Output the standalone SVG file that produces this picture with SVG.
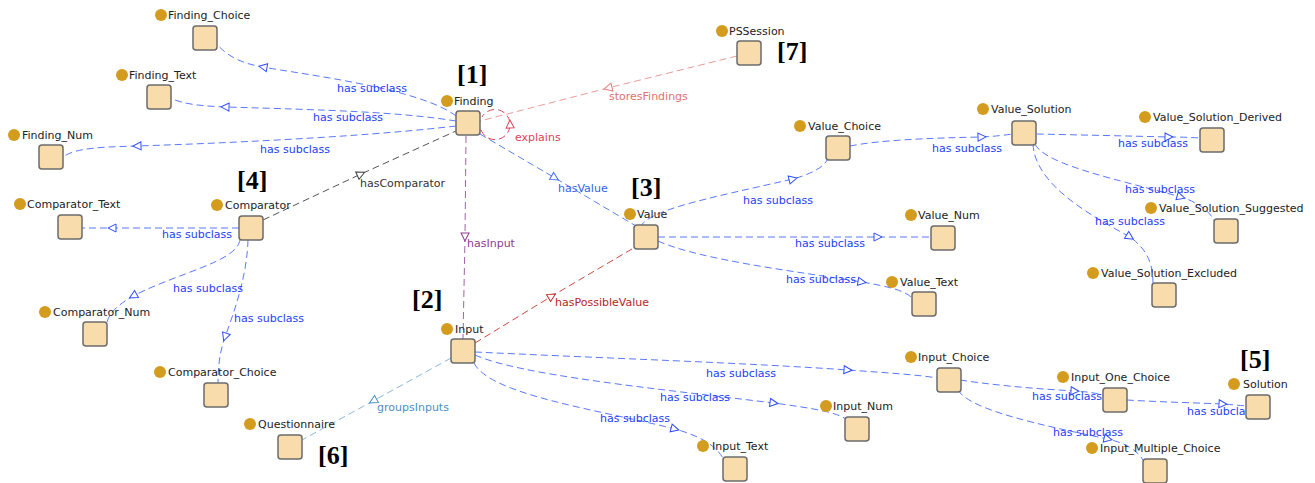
<svg xmlns="http://www.w3.org/2000/svg" width="1315" height="483" viewBox="0 0 1315 483">
<style>
  .box{fill:#F8DCAB;stroke:#6b6b6b;stroke-width:1.5}
  .dot{fill:#D39C1F}
  .nl{font-family:"DejaVu Sans",sans-serif;font-size:11px;fill:#222}
  .el{font-family:"DejaVu Sans",sans-serif;font-size:11px}
  .sub{fill:#2340ff}
  .e{fill:none;stroke-width:1;stroke-dasharray:7,4}
  .eb{stroke:#5a78ff;marker-mid:url(#mb)}
  .num{font-family:"Liberation Serif",serif;font-weight:bold;font-size:26px;fill:#000}
</style>
<defs>
  <marker id="mb" viewBox="0 0 10 10" refX="5" refY="5" markerWidth="10" markerHeight="10" markerUnits="userSpaceOnUse" orient="auto"><path d="M1,1 L9,5 L1,9 Z" fill="#fff" stroke="#2f4cff" stroke-width="1"/></marker>
  <marker id="mg" viewBox="0 0 10 10" refX="5" refY="5" markerWidth="10" markerHeight="10" markerUnits="userSpaceOnUse" orient="auto"><path d="M1,1 L9,5 L1,9 Z" fill="#fff" stroke="#444" stroke-width="1"/></marker>
  <marker id="mp" viewBox="0 0 10 10" refX="5" refY="5" markerWidth="10" markerHeight="10" markerUnits="userSpaceOnUse" orient="auto"><path d="M1,1 L9,5 L1,9 Z" fill="#fff" stroke="#8e3a94" stroke-width="1"/></marker>
  <marker id="mv" viewBox="0 0 10 10" refX="5" refY="5" markerWidth="10" markerHeight="10" markerUnits="userSpaceOnUse" orient="auto"><path d="M1,1 L9,5 L1,9 Z" fill="#fff" stroke="#3f6cf0" stroke-width="1"/></marker>
  <marker id="mr" viewBox="0 0 10 10" refX="5" refY="5" markerWidth="10" markerHeight="10" markerUnits="userSpaceOnUse" orient="auto"><path d="M1,1 L9,5 L1,9 Z" fill="#fff" stroke="#c0302a" stroke-width="1"/></marker>
  <marker id="ml" viewBox="0 0 10 10" refX="5" refY="5" markerWidth="10" markerHeight="10" markerUnits="userSpaceOnUse" orient="auto"><path d="M1,1 L9,5 L1,9 Z" fill="#fff" stroke="#4a8fc4" stroke-width="1"/></marker>
  <marker id="mk" viewBox="0 0 10 10" refX="5" refY="5" markerWidth="10" markerHeight="10" markerUnits="userSpaceOnUse" orient="auto"><path d="M1,1 L9,5 L1,9 Z" fill="#fff" stroke="#e27c7c" stroke-width="1"/></marker>
  <marker id="mx" viewBox="0 0 10 10" refX="5" refY="5" markerWidth="10" markerHeight="10" markerUnits="userSpaceOnUse" orient="auto"><path d="M1,1 L9,5 L1,9 Z" fill="#fff" stroke="#e0405a" stroke-width="1"/></marker>
</defs>
<rect width="1315" height="483" fill="#fff"/>

<g id="connectors">
  <path class="e eb" d="M456,116 C420,88 300,74 263,67 C245,64 228,58 216,43"/>
  <path class="e eb" d="M456,121 C400,112 330,110 225,107 C205,106 185,105 170,98"/>
  <path class="e eb" d="M456,126 C380,135 260,142 137,146 C100,147 75,148 63,157"/>
  <path class="e eb" d="M239,228 L112,228 L81,228"/>
  <path class="e eb" d="M240,240 C236,262 180,272 133,296 C118,305 110,312 107,322"/>
  <path class="e eb" d="M248,240 C247,275 235,310 225,337 C220,352 218,365 218,383"/>
  <path class="e eb" d="M640,227 C650,210 700,200 793,179 C815,173 825,165 827,160"/>
  <path class="e eb" d="M658,237 L878,237 L931,237"/>
  <path class="e eb" d="M658,241 C700,260 800,272 862,282 C885,286 905,290 912,298"/>
  <path class="e eb" d="M850,146 C880,140 930,138 982,137 Q1000,136 1012,134"/>
  <path class="e eb" d="M1037,134 C1080,135 1130,136 1169,137 Q1185,137 1200,138"/>
  <path class="e eb" d="M1035,144 C1045,165 1120,180 1181,197 C1200,203 1210,212 1215,222"/>
  <path class="e eb" d="M1033,144 C1035,185 1090,215 1130,237 C1148,250 1153,265 1153,283"/>
  <path class="e eb" d="M475,352 C600,358 750,363 848,370 C890,373 920,375 937,378"/>
  <path class="e eb" d="M475,355 C520,375 650,388 774,403 C810,408 838,412 847,420"/>
  <path class="e eb" d="M474,363 C490,395 600,410 675,429 C700,436 715,445 723,458"/>
  <path class="e eb" d="M960,380 C1000,386 1040,389 1075,391 Q1092,392 1103,395"/>
  <path class="e eb" d="M958,390 C970,410 1040,425 1108,439 C1125,443 1137,450 1143,460"/>
  <path class="e eb" d="M1127,400 C1160,402 1200,403 1223,404 Q1236,405 1246,406"/>
  <path class="e" stroke="#555" marker-mid="url(#mg)" d="M263,220 L361,174 L456,131"/>
  <path class="e" stroke="#a064a8" marker-mid="url(#mp)" d="M466,136 L465,237 L463,339"/>
  <path class="e" stroke="#5b82f0" marker-mid="url(#mv)" d="M480,134 L555,178 L636,226"/>
  <path class="e" stroke="#cc4a40" marker-mid="url(#mr)" d="M475,343 L552,296 L637,246"/>
  <path class="e" stroke="#8ab8dc" marker-mid="url(#ml)" d="M451,358 L373,401 L302,440"/>
  <path class="e" stroke="#eb9a9a" marker-mid="url(#mk)" d="M737,56 L608,88 L480,121"/>
  <path class="e" stroke="#e0405a" marker-mid="url(#mx)" d="M481,130 A15,15 0 0,0 510,124 A15,15 0 0,0 482,117"/>

  <text class="el sub" x="337" y="92">has subclass</text>
  <text class="el sub" x="313" y="121">has subclass</text>
  <text class="el sub" x="260" y="153">has subclass</text>
  <text class="el sub" x="162" y="238">has subclass</text>
  <text class="el sub" x="173" y="292">has subclass</text>
  <text class="el sub" x="234" y="322">has subclass</text>
  <text class="el sub" x="743" y="204">has subclass</text>
  <text class="el sub" x="795" y="247">has subclass</text>
  <text class="el sub" x="786" y="283">has subclass</text>
  <text class="el sub" x="932" y="152">has subclass</text>
  <text class="el sub" x="1118" y="147">has subclass</text>
  <text class="el sub" x="1125" y="193">has subclass</text>
  <text class="el sub" x="1095" y="225">has subclass</text>
  <text class="el sub" x="706" y="377">has subclass</text>
  <text class="el sub" x="660" y="401">has subclass</text>
  <text class="el sub" x="600" y="422">has subclass</text>
  <text class="el sub" x="1032" y="400">has subclass</text>
  <text class="el sub" x="1053" y="436">has subclass</text>
  <text class="el sub" x="1187" y="415">has subclass</text>
  <text class="el" fill="#333" x="360" y="187">hasComparator</text>
  <text class="el" fill="#8e3a94" x="467" y="247">hasInput</text>
  <text class="el" fill="#2f62f0" x="558" y="192">hasValue</text>
  <text class="el" fill="#b3261e" x="555" y="306">hasPossibleValue</text>
  <text class="el" fill="#4a8fc4" x="377" y="411">groupsInputs</text>
  <text class="el" fill="#e07070" x="609" y="100">storesFindings</text>
  <text class="el" fill="#e0405a" x="515" y="141">explains</text>
</g>

<g id="Finding_Choice"><rect class="box" x="193" y="26" width="24" height="24" rx="3"/><circle class="dot" cx="161" cy="15" r="6"/><text class="nl" x="168" y="19">Finding_Choice</text></g>
<g id="Finding_Text"><rect class="box" x="147" y="85" width="24" height="24" rx="3"/><circle class="dot" cx="122" cy="75" r="6"/><text class="nl" x="129" y="79">Finding_Text</text></g>
<g id="Finding_Num"><rect class="box" x="39" y="145" width="24" height="24" rx="3"/><circle class="dot" cx="14" cy="135" r="6"/><text class="nl" x="22" y="139">Finding_Num</text></g>
<g id="Finding"><rect class="box" x="456" y="111" width="24" height="24" rx="3"/><circle class="dot" cx="447" cy="101" r="6"/><text class="nl" x="454" y="105">Finding</text></g>
<g id="Comparator_Text"><rect class="box" x="58" y="215" width="24" height="24" rx="3"/><circle class="dot" cx="20" cy="204" r="6"/><text class="nl" x="27" y="208">Comparator_Text</text></g>
<g id="Comparator"><rect class="box" x="239" y="216" width="24" height="24" rx="3"/><circle class="dot" cx="217" cy="205" r="6"/><text class="nl" x="225" y="209">Comparator</text></g>
<g id="Comparator_Num"><rect class="box" x="83" y="322" width="24" height="24" rx="3"/><circle class="dot" cx="45" cy="312" r="6"/><text class="nl" x="53" y="316">Comparator_Num</text></g>
<g id="Comparator_Choice"><rect class="box" x="204" y="383" width="24" height="24" rx="3"/><circle class="dot" cx="160" cy="372" r="6"/><text class="nl" x="168" y="376">Comparator_Choice</text></g>
<g id="Questionnaire"><rect class="box" x="278" y="435" width="24" height="24" rx="3"/><circle class="dot" cx="250" cy="424" r="6"/><text class="nl" x="258" y="428">Questionnaire</text></g>
<g id="Input"><rect class="box" x="451" y="339" width="24" height="24" rx="3"/><circle class="dot" cx="447" cy="329" r="6"/><text class="nl" x="455" y="333">Input</text></g>
<g id="PSSession"><rect class="box" x="737" y="41" width="24" height="24" rx="3"/><circle class="dot" cx="722" cy="31" r="6"/><text class="nl" x="729" y="35">PSSession</text></g>
<g id="Value"><rect class="box" x="634" y="225" width="24" height="24" rx="3"/><circle class="dot" cx="630" cy="214" r="6"/><text class="nl" x="637" y="218">Value</text></g>
<g id="Value_Choice"><rect class="box" x="826" y="136" width="24" height="24" rx="3"/><circle class="dot" cx="800" cy="126" r="6"/><text class="nl" x="808" y="130">Value_Choice</text></g>
<g id="Value_Num"><rect class="box" x="931" y="226" width="24" height="24" rx="3"/><circle class="dot" cx="911" cy="215" r="6"/><text class="nl" x="918" y="219">Value_Num</text></g>
<g id="Value_Text"><rect class="box" x="912" y="292" width="24" height="24" rx="3"/><circle class="dot" cx="892" cy="282" r="6"/><text class="nl" x="900" y="286">Value_Text</text></g>
<g id="Value_Solution"><rect class="box" x="1012" y="121" width="24" height="24" rx="3"/><circle class="dot" cx="983" cy="109" r="6"/><text class="nl" x="991" y="113">Value_Solution</text></g>
<g id="Value_Solution_Derived"><rect class="box" x="1200" y="128" width="24" height="24" rx="3"/><circle class="dot" cx="1145" cy="117" r="6"/><text class="nl" x="1153" y="121">Value_Solution_Derived</text></g>
<g id="Value_Solution_Suggested"><rect class="box" x="1214" y="219" width="24" height="24" rx="3"/><circle class="dot" cx="1151" cy="208" r="6"/><text class="nl" x="1159" y="212">Value_Solution_Suggested</text></g>
<g id="Value_Solution_Excluded"><rect class="box" x="1152" y="283" width="24" height="24" rx="3"/><circle class="dot" cx="1093" cy="273" r="6"/><text class="nl" x="1101" y="277">Value_Solution_Excluded</text></g>
<g id="Input_Choice"><rect class="box" x="937" y="368" width="24" height="24" rx="3"/><circle class="dot" cx="911" cy="357" r="6"/><text class="nl" x="918" y="361">Input_Choice</text></g>
<g id="Input_Num"><rect class="box" x="845" y="417" width="24" height="24" rx="3"/><circle class="dot" cx="826" cy="406" r="6"/><text class="nl" x="833" y="410">Input_Num</text></g>
<g id="Input_Text"><rect class="box" x="723" y="457" width="24" height="24" rx="3"/><circle class="dot" cx="703" cy="446" r="6"/><text class="nl" x="712" y="450">Input_Text</text></g>
<g id="Input_One_Choice"><rect class="box" x="1103" y="388" width="24" height="24" rx="3"/><circle class="dot" cx="1063" cy="377" r="6"/><text class="nl" x="1071" y="381">Input_One_Choice</text></g>
<g id="Input_Multiple_Choice"><rect class="box" x="1143" y="459" width="24" height="24" rx="3"/><circle class="dot" cx="1092" cy="448" r="6"/><text class="nl" x="1100" y="452">Input_Multiple_Choice</text></g>
<g id="Solution"><rect class="box" x="1246" y="395" width="24" height="24" rx="3"/><circle class="dot" cx="1234" cy="384" r="6"/><text class="nl" x="1243" y="388">Solution</text></g>

<g id="annotations">
  <text class="num" x="457" y="83">[1]</text>
  <text class="num" x="412" y="308">[2]</text>
  <text class="num" x="631" y="196">[3]</text>
  <text class="num" x="237" y="189">[4]</text>
  <text class="num" x="1240" y="368">[5]</text>
  <text class="num" x="318" y="464">[6]</text>
  <text class="num" x="777" y="60">[7]</text>
</g>
</svg>
